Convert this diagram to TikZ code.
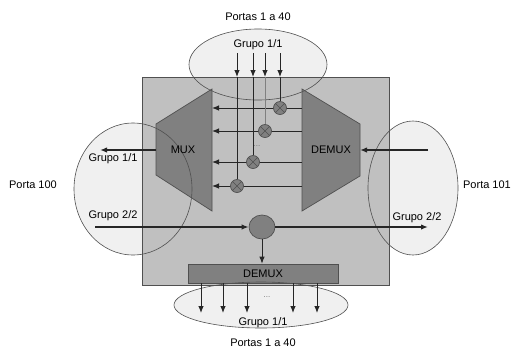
\documentclass[tikz,border=0pt]{standalone}
\usepackage{fontspec}
\setmainfont{Liberation Sans}
\usetikzlibrary{arrows.meta,shapes.geometric}
\definecolor{boxgray}{HTML}{C0C0C0}
\definecolor{darkfill}{HTML}{808080}
\definecolor{ellfill}{HTML}{F0F0F0}
\definecolor{edge}{HTML}{505050}
\tikzset{
  lbl/.style={font=\fontsize{11}{12}\selectfont, inner sep=0pt},
  portell/.style={ellipse, draw=edge, line width=0.6pt, inner sep=0pt},
  thinln/.style={draw=black!85, line width=0.9pt},
  thickln/.style={draw=black!85, line width=2pt},
  tip/.style={-{Latex[length=7pt,width=5.5pt]}},
  xcirc/.style={circle, draw=edge, fill=darkfill, minimum size=13pt, inner sep=0pt, line width=0.7pt},
  dots/.style={font=\fontsize{8}{8}\selectfont, text=black!55, inner sep=0pt},
}
\begin{document}
\begin{tikzpicture}[x=1pt,y=-1pt]
\useasboundingbox (0,0) rectangle (512,349);
% ellipse fills
\fill[ellfill] (258,64.5) ellipse [x radius=69, y radius=35.5];
\fill[ellfill] (133,189) ellipse [x radius=59, y radius=66];
\fill[ellfill] (413,188) ellipse [x radius=45, y radius=67];
\fill[ellfill] (261,305) ellipse [x radius=87, y radius=23];
% main box
\node[draw=edge, fill=boxgray, line width=0.8pt, minimum width=247pt, minimum height=208pt, inner sep=0pt] (box) at (265.5,181) {};
% MUX / DEMUX trapezoids
\draw[fill=darkfill, draw=edge, line width=0.7pt] (212,89) -- (212,211) -- (156,175) -- (156,124) -- cycle;
\draw[fill=darkfill, draw=edge, line width=0.7pt] (302,89) -- (360,124) -- (360,176) -- (302,211) -- cycle;
% bottom DEMUX bar
\node[draw=edge, fill=darkfill, line width=0.7pt, minimum width=150pt, minimum height=19pt, inner sep=0pt] (bdemux) at (263,273.5) {};
% ellipse outlines
\node[portell, minimum width=138pt, minimum height=71pt] (topE) at (258,64.5) {};
\node[portell, minimum width=118pt, minimum height=132pt] (leftE) at (133,189) {};
\node[portell, minimum width=90pt, minimum height=134pt] (rightE) at (413,188) {};
\node[portell, minimum width=174pt, minimum height=46pt] (botE) at (261,305) {};
\node[lbl] (mux) at (183,150) {MUX};
\node[lbl] (demux) at (331,150) {DEMUX};
\node[lbl] at (bdemux.center) {DEMUX};
% crossing circles
\foreach \n/\x/\y in {1/280/108, 2/265/131, 3/253/162, 4/237/186} {
  \coordinate (r\n) at (302,\y);
  \coordinate (l\n) at (212,\y);
  \coordinate (t\n) at (\x,53);
  \coordinate (m\n) at (\x,77);
}
% horizontal lines to MUX
\foreach \n in {1,2,3,4} { \draw[thinln, tip] (r\n) -- (l\n); }
% vertical lines
\draw[thinln, tip] (t1) -- (m1);
\draw[thinln, tip] (t2) -- (m2);
\draw[thinln, tip] (t3) -- (m3);
\draw[thinln, tip] (t4) -- (m4);
\node[xcirc] (c1) at (280,108) {};
\node[xcirc] (c2) at (265,131) {};
\node[xcirc] (c3) at (253,162) {};
\node[xcirc] (c4) at (237,186) {};
\draw[thinln] (m1) -- (c1.north);
\draw[line width=0.9pt, draw=black!50] (m2) -- (c2.north);
\draw[thinln] (m3) -- (c3.north);
\draw[thinln] (m4) -- (c4.north);
\foreach \n in {1,2,3,4} {
  \draw[edge, line width=0.6pt] (c\n.north west) -- (c\n.south east) (c\n.north east) -- (c\n.south west);
}
\node[dots] at (257,146) {...};
% middle splitter
\node[ellipse, draw=edge, fill=darkfill, minimum width=26pt, minimum height=24pt, inner sep=0pt, line width=0.7pt] (split) at (262,227) {};
\coordinate (in22) at (95,227);
\coordinate (out22) at (428,227);
\draw[thickln, tip] (in22) -- (split.west);
\draw[thickln, tip] (split.east) -- (out22);
% bottom arrows
\draw[thinln, tip] (split.south) -- (bdemux.north -| split.south);
\foreach \x in {201,223,247,293,317} {
  \coordinate (bo\x) at (\x,313);
  \draw[thinln, tip] (bdemux.south -| bo\x) -- (bo\x);
}
\node[dots] at (267,297) {...};
% side arrows
\coordinate (muxout) at (156,150);
\coordinate (g11) at (100,150);
\draw[thickln, tip] (muxout) -- (g11);
\coordinate (demuxin) at (360,150);
\coordinate (p101in) at (428,150);
\draw[thickln, tip] (p101in) -- (demuxin);
% labels
\node[lbl] at (258,17) {Portas 1 a 40};
\node[lbl] at (258,45) {Grupo 1/1};
\node[lbl] at (33,185) {Porta 100};
\node[lbl] at (487,185) {Porta 101};
\node[lbl] at (113,159) {Grupo 1/1};
\node[lbl] at (113,216) {Grupo 2/2};
\node[lbl] at (417,218) {Grupo 2/2};
\node[lbl] at (263,323) {Grupo 1/1};
\node[lbl] at (263,343) {Portas 1 a 40};
\end{tikzpicture}
\end{document}
